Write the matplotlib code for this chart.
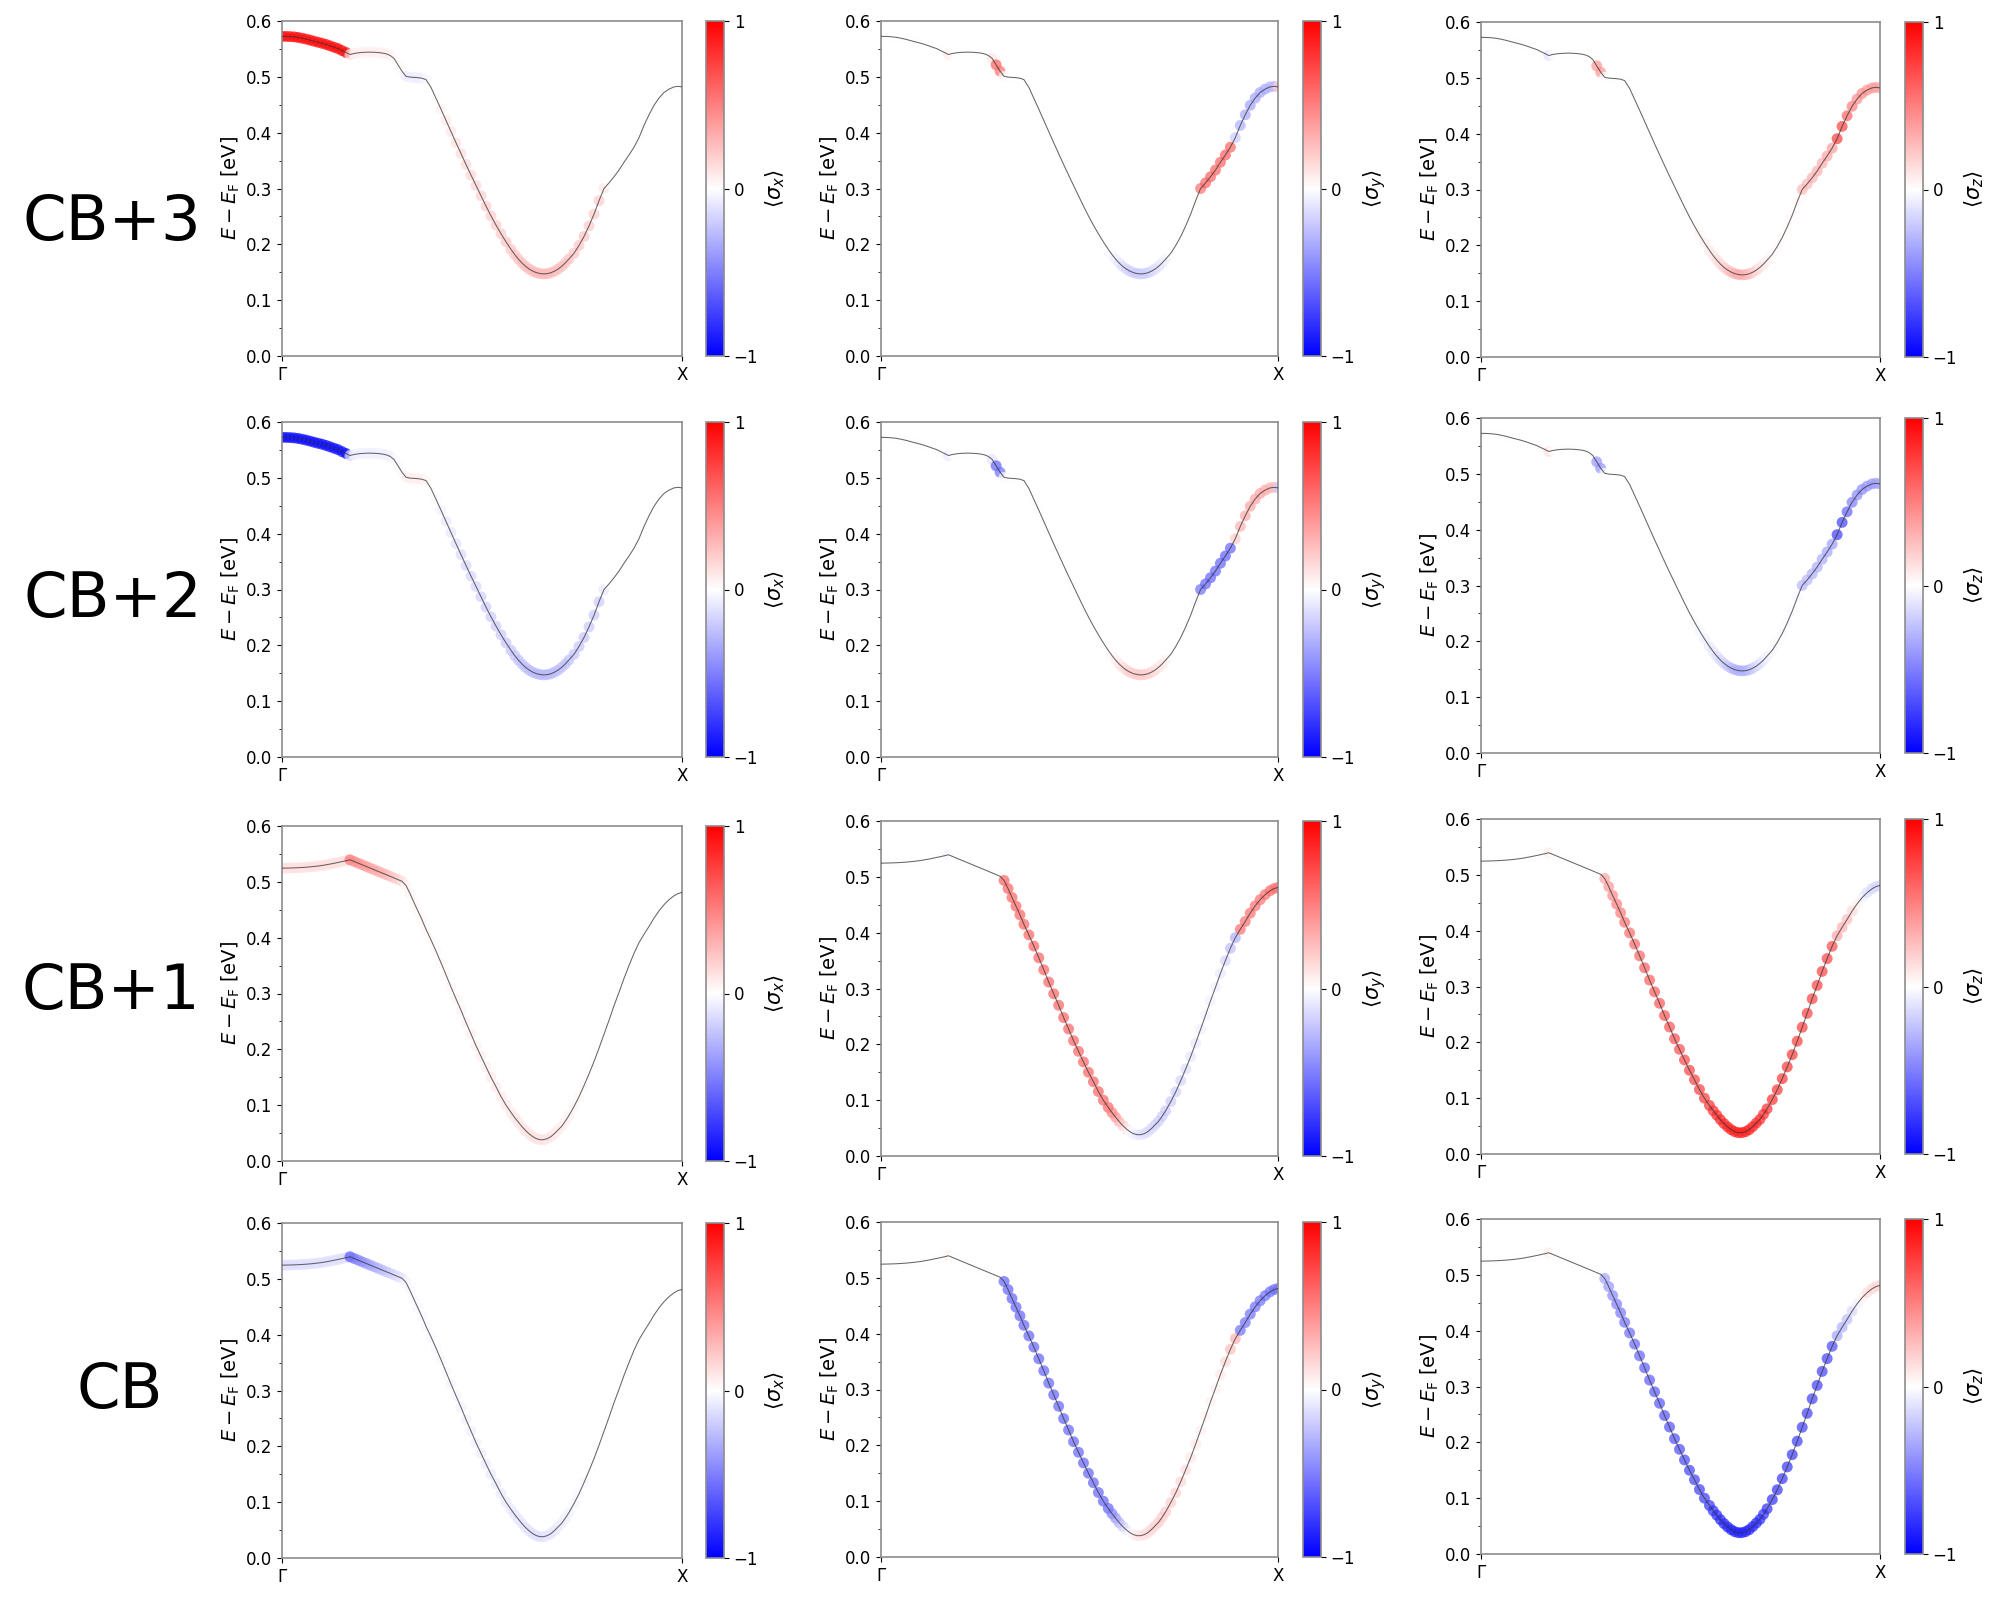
import matplotlib
matplotlib.use('Agg')
import matplotlib.pyplot as plt
from matplotlib.colors import Normalize
from matplotlib.cm import ScalarMappable
from matplotlib.ticker import MultipleLocator

# k-path coordinate (Gamma = 0, X = 1)
k_pts = [
    0.00, 0.01, 0.02, 0.03, 0.04, 0.05, 0.06, 0.07, 0.08, 0.09,
    0.10, 0.11, 0.12, 0.13, 0.14, 0.15, 0.16, 0.17, 0.18, 0.19,
    0.20, 0.21, 0.22, 0.23, 0.24, 0.25, 0.26, 0.27, 0.28, 0.29,
    0.30, 0.31, 0.32, 0.33, 0.34, 0.35, 0.36,
    0.3725, 0.385, 0.3975, 0.41, 0.4225, 0.435, 0.4475, 0.46, 0.4725, 0.485,
    0.4975, 0.51, 0.5225, 0.535, 0.5475, 0.56, 0.5725,
    0.582, 0.591, 0.600, 0.609, 0.618, 0.627, 0.636, 0.645,
    0.654, 0.663, 0.672, 0.681, 0.690, 0.699, 0.708, 0.717,
    0.73, 0.7425, 0.755, 0.7675, 0.78, 0.7925, 0.805, 0.8175, 0.83, 0.8425,
    0.855, 0.8675, 0.88, 0.8925, 0.905, 0.9175, 0.93, 0.9425, 0.955, 0.9675,
    0.98, 0.99, 1.00,
]

# energies of CB+2 / CB+3 (degenerate pair)
e_upper = [
    0.5725, 0.5724, 0.5721, 0.5715, 0.5706, 0.5692, 0.5676, 0.5658, 0.5638, 0.5620,
    0.5602, 0.5580, 0.5556, 0.5530, 0.5506, 0.5470, 0.5436, 0.5400, 0.5418, 0.5430,
    0.5437, 0.5441, 0.5442, 0.5440, 0.5435, 0.5427, 0.5413, 0.5385, 0.5330, 0.5215,
    0.5100, 0.5010, 0.4995, 0.4990, 0.4985, 0.4975, 0.4950,
    0.481, 0.4615, 0.442, 0.422, 0.402, 0.382, 0.3625, 0.343, 0.324, 0.3055,
    0.287, 0.2685, 0.251, 0.2345, 0.219, 0.2045, 0.191,
    0.1815, 0.1735, 0.1665, 0.1605, 0.1557, 0.1520, 0.1493, 0.1477,
    0.1470, 0.1475, 0.1490, 0.1518, 0.1556, 0.1605, 0.1665, 0.1735,
    0.184, 0.198, 0.214, 0.233, 0.254, 0.278, 0.300, 0.310, 0.321, 0.333,
    0.347, 0.360, 0.374, 0.391, 0.413, 0.432, 0.449, 0.462, 0.472, 0.478,
    0.482, 0.483, 0.482,
]

# energies of CB / CB+1 (degenerate pair)
e_lower = [
    0.5245, 0.5246, 0.5248, 0.5250, 0.5253, 0.5257, 0.5262, 0.5268, 0.5275, 0.5283,
    0.5293, 0.5305, 0.5318, 0.5332, 0.5347, 0.5362, 0.5378, 0.5395, 0.5366, 0.5336,
    0.5306, 0.5277, 0.5247, 0.5218, 0.5188, 0.5159, 0.5129, 0.5100, 0.5070, 0.5040,
    0.5010, 0.4935, 0.4790, 0.4630, 0.4475, 0.4320, 0.4150,
    0.396, 0.376, 0.355, 0.3335, 0.3115, 0.2905, 0.270, 0.248, 0.2275, 0.2065,
    0.1875, 0.1685, 0.150, 0.133, 0.1155, 0.100, 0.087,
    0.0775, 0.0695, 0.0615, 0.0545, 0.0485, 0.0435, 0.0400, 0.0382,
    0.0382, 0.0400, 0.0435, 0.0490, 0.0555, 0.0620, 0.0710, 0.0810,
    0.0975, 0.115, 0.135, 0.156, 0.178, 0.202, 0.227, 0.252, 0.278, 0.302,
    0.327, 0.350, 0.372, 0.391, 0.406, 0.420, 0.435, 0.448, 0.459, 0.468,
    0.475, 0.479, 0.481,
]

# spin expectation values, one list per panel
sx_cb3 = [
    0.95, 0.95, 0.95, 0.95, 0.95, 0.95, 0.95, 0.95, 0.95, 0.95,
    0.95, 0.95, 0.95, 0.95, 0.95, 0.95, 0.95, 0.15, 0.06, 0.06,
    0.06, 0.06, 0.06, 0.06, 0.06, 0.06, 0.06, 0.06, 0.02, 0.02,
    0.02, -0.07, -0.07, -0.07, -0.07, -0.07, -0.03,
    0.0, 0.02, 0.05, 0.08, 0.1, 0.12, 0.14, 0.15, 0.16, 0.17,
    0.18, 0.19, 0.2, 0.2, 0.21, 0.22, 0.22,
    0.23, 0.24, 0.25, 0.25, 0.26, 0.26, 0.27, 0.27,
    0.27, 0.27, 0.26, 0.26, 0.25, 0.25, 0.24, 0.24,
    0.23, 0.22, 0.22, 0.21, 0.2, 0.2, 0.1, 0.0, 0.0, 0.0,
    0.0, 0.0, 0.0, 0.0, 0.0, 0.0, 0.0, 0.0, 0.0, 0.0,
    0.0, 0.0, 0.0,
]
sy_cb3 = [
    0.0, 0.0, 0.0, 0.0, 0.0, 0.0, 0.0, 0.0, 0.0, 0.0,
    0.0, 0.0, 0.0, 0.0, 0.0, 0.0, 0.0, 0.08, 0.0, 0.0,
    0.0, 0.0, 0.0, 0.0, 0.0, 0.0, 0.0, 0.0, 0.1, 0.6,
    0.55, 0.03, 0.0, 0.0, 0.0, 0.0, 0.0,
    0.0, 0.0, 0.0, 0.0, 0.0, 0.0, 0.0, 0.0, 0.0, 0.0,
    0.0, 0.0, 0.0, 0.0, 0.0, 0.0, 0.0,
    -0.03, -0.06, -0.1, -0.13, -0.16, -0.18, -0.19, -0.2,
    -0.2, -0.19, -0.18, -0.16, -0.14, -0.11, -0.08, -0.05,
    0.0, 0.0, 0.0, 0.0, 0.0, 0.02, 0.55, 0.6, 0.6, 0.6,
    0.6, 0.62, 0.6, -0.2, -0.3, -0.33, -0.35, -0.35, -0.35, -0.33,
    -0.3, -0.28, 0.2,
]
sz_cb3 = [
    0.0, 0.0, 0.0, 0.0, 0.0, 0.0, 0.0, 0.0, 0.0, 0.0,
    0.0, 0.0, 0.0, 0.0, 0.0, 0.0, 0.0, -0.12, 0.0, 0.0,
    0.0, 0.0, 0.0, 0.0, 0.0, 0.0, 0.0, 0.0, 0.0, 0.4,
    0.4, 0.0, 0.0, 0.0, 0.0, 0.0, 0.0,
    0.0, 0.0, 0.0, 0.0, 0.0, 0.0, 0.0, 0.0, 0.0, 0.0,
    0.0, 0.0, 0.0, 0.02, 0.04, 0.06, 0.08,
    0.1, 0.12, 0.15, 0.18, 0.22, 0.26, 0.3, 0.32,
    0.32, 0.3, 0.26, 0.21, 0.16, 0.12, 0.08, 0.05,
    0.03, 0.02, 0.02, 0.02, 0.02, 0.03, 0.28, 0.28, 0.3, 0.32,
    0.32, 0.35, 0.38, 0.75, 0.72, 0.6, 0.5, 0.45, 0.45, 0.42,
    0.4, 0.38, 0.35,
]

sx_cb2 = [
    -0.95, -0.95, -0.95, -0.95, -0.95, -0.95, -0.95, -0.95, -0.95, -0.95,
    -0.95, -0.95, -0.95, -0.95, -0.95, -0.95, -0.95, -0.15, -0.06, -0.06,
    -0.06, -0.06, -0.06, -0.06, -0.06, -0.06, -0.06, -0.06, -0.02, -0.02,
    -0.02, 0.07, 0.07, 0.07, 0.07, 0.07, 0.03,
    0.0, -0.02, -0.05, -0.08, -0.1, -0.12, -0.14, -0.15, -0.16, -0.17,
    -0.18, -0.19, -0.2, -0.2, -0.21, -0.22, -0.22,
    -0.23, -0.24, -0.25, -0.25, -0.26, -0.26, -0.27, -0.27,
    -0.27, -0.27, -0.26, -0.26, -0.25, -0.25, -0.24, -0.24,
    -0.23, -0.22, -0.22, -0.21, -0.2, -0.2, -0.1, 0.0, 0.0, 0.0,
    0.0, 0.0, 0.0, 0.0, 0.0, 0.0, 0.0, 0.0, 0.0, 0.0,
    0.0, 0.0, 0.0,
]
sy_cb2 = [
    0.0, 0.0, 0.0, 0.0, 0.0, 0.0, 0.0, 0.0, 0.0, 0.0,
    0.0, 0.0, 0.0, 0.0, 0.0, 0.0, 0.0, -0.08, 0.0, 0.0,
    0.0, 0.0, 0.0, 0.0, 0.0, 0.0, 0.0, 0.0, -0.1, -0.6,
    -0.55, -0.03, 0.0, 0.0, 0.0, 0.0, 0.0,
    0.0, 0.0, 0.0, 0.0, 0.0, 0.0, 0.0, 0.0, 0.0, 0.0,
    0.0, 0.0, 0.0, 0.0, 0.0, 0.0, 0.0,
    0.03, 0.06, 0.1, 0.13, 0.16, 0.18, 0.19, 0.2,
    0.2, 0.19, 0.18, 0.16, 0.14, 0.11, 0.08, 0.05,
    0.0, 0.0, 0.0, 0.0, 0.0, -0.02, -0.55, -0.6, -0.6, -0.6,
    -0.6, -0.62, -0.6, 0.2, 0.3, 0.33, 0.35, 0.35, 0.35, 0.33,
    0.3, 0.28, -0.2,
]
sz_cb2 = [
    0.0, 0.0, 0.0, 0.0, 0.0, 0.0, 0.0, 0.0, 0.0, 0.0,
    0.0, 0.0, 0.0, 0.0, 0.0, 0.0, 0.0, 0.12, 0.0, 0.0,
    0.0, 0.0, 0.0, 0.0, 0.0, 0.0, 0.0, 0.0, 0.0, -0.4,
    -0.4, 0.0, 0.0, 0.0, 0.0, 0.0, 0.0,
    0.0, 0.0, 0.0, 0.0, 0.0, 0.0, 0.0, 0.0, 0.0, 0.0,
    0.0, 0.0, 0.0, -0.02, -0.04, -0.06, -0.08,
    -0.1, -0.12, -0.15, -0.18, -0.22, -0.26, -0.3, -0.32,
    -0.32, -0.3, -0.26, -0.21, -0.16, -0.12, -0.08, -0.05,
    -0.03, -0.02, -0.02, -0.02, -0.02, -0.03, -0.28, -0.28, -0.3, -0.32,
    -0.32, -0.35, -0.38, -0.75, -0.72, -0.6, -0.5, -0.45, -0.45, -0.42,
    -0.4, -0.38, -0.35,
]

sx_cb1 = [
    0.12, 0.12, 0.12, 0.12, 0.12, 0.12, 0.12, 0.12, 0.12, 0.12,
    0.12, 0.12, 0.12, 0.12, 0.12, 0.12, 0.12, 0.55, 0.45, 0.43,
    0.41, 0.39, 0.37, 0.35, 0.33, 0.31, 0.29, 0.26, 0.22, 0.18,
    0.12, 0.05, 0.04, 0.03, 0.03, 0.03, 0.03,
    0.03, 0.03, 0.03, 0.03, 0.04, 0.04, 0.05, 0.05, 0.06, 0.06,
    0.07, 0.07, 0.08, 0.08, 0.08, 0.09, 0.09,
    0.1, 0.1, 0.1, 0.11, 0.11, 0.11, 0.11, 0.11,
    0.11, 0.1, 0.1, 0.09, 0.08, 0.07, 0.06, 0.05,
    0.04, 0.03, 0.02, 0.0, 0.0, 0.0, 0.0, 0.0, 0.0, 0.0,
    0.0, 0.0, 0.0, 0.0, 0.0, 0.0, 0.0, 0.0, 0.0, 0.0,
    0.0, 0.0, 0.0,
]
sy_cb1 = [
    0.0, 0.0, 0.0, 0.0, 0.0, 0.0, 0.0, 0.0, 0.0, 0.0,
    0.0, 0.0, 0.0, 0.0, 0.0, 0.0, 0.0, -0.05, 0.0, 0.0,
    0.0, 0.0, 0.0, 0.0, 0.0, 0.0, 0.0, 0.0, 0.0, 0.0,
    0.0, 0.6, 0.6, 0.6, 0.6, 0.6, 0.6,
    0.6, 0.6, 0.6, 0.6, 0.6, 0.6, 0.6, 0.6, 0.6, 0.6,
    0.6, 0.6, 0.6, 0.6, 0.6, 0.6, 0.6,
    0.5, 0.4, 0.3, 0.2, 0.1, 0.03, -0.04, -0.08,
    -0.1, -0.12, -0.13, -0.15, -0.17, -0.18, -0.2, -0.2,
    -0.2, -0.18, -0.16, -0.13, -0.1, -0.08, -0.06, -0.05, -0.05, -0.06,
    -0.08, -0.15, -0.25, -0.3, 0.55, 0.55, 0.55, 0.55, 0.55, 0.55,
    0.55, 0.55, 0.55,
]
sz_cb1 = [
    0.0, 0.0, 0.0, 0.0, 0.0, 0.0, 0.0, 0.0, 0.0, 0.0,
    0.0, 0.0, 0.0, 0.0, 0.0, 0.0, 0.0, 0.08, 0.0, 0.0,
    0.0, 0.0, 0.0, 0.0, 0.0, 0.0, 0.0, 0.0, 0.0, 0.0,
    0.0, 0.35, 0.4, 0.45, 0.5, 0.52, 0.55,
    0.57, 0.58, 0.6, 0.62, 0.63, 0.64, 0.65, 0.66, 0.67, 0.68,
    0.7, 0.71, 0.72, 0.73, 0.75, 0.76, 0.78,
    0.8, 0.82, 0.83, 0.84, 0.85, 0.86, 0.86, 0.86,
    0.86, 0.86, 0.85, 0.84, 0.83, 0.82, 0.8, 0.8,
    0.79, 0.78, 0.77, 0.76, 0.76, 0.75, 0.75, 0.74, 0.74, 0.73,
    0.72, 0.72, 0.7, 0.35, 0.3, 0.25, 0.15, 0.05, -0.05, -0.12,
    -0.15, -0.15, -0.15,
]

sx_cb0 = [
    -0.12, -0.12, -0.12, -0.12, -0.12, -0.12, -0.12, -0.12, -0.12, -0.12,
    -0.12, -0.12, -0.12, -0.12, -0.12, -0.12, -0.12, -0.65, -0.55, -0.5,
    -0.46, -0.42, -0.38, -0.34, -0.3, -0.27, -0.24, -0.2, -0.17, -0.14,
    -0.1, -0.04, -0.03, -0.03, -0.03, -0.03, -0.03,
    -0.03, -0.03, -0.03, -0.03, -0.04, -0.04, -0.05, -0.05, -0.06, -0.06,
    -0.07, -0.07, -0.08, -0.08, -0.08, -0.09, -0.09,
    -0.1, -0.1, -0.1, -0.11, -0.11, -0.11, -0.11, -0.11,
    -0.11, -0.1, -0.1, -0.09, -0.08, -0.07, -0.06, -0.05,
    -0.04, -0.03, -0.02, 0.0, 0.0, 0.0, 0.0, 0.0, 0.0, 0.0,
    0.0, 0.0, 0.0, 0.0, 0.0, 0.0, 0.0, 0.0, 0.0, 0.0,
    0.0, 0.0, 0.0,
]
sy_cb0 = [
    0.0, 0.0, 0.0, 0.0, 0.0, 0.0, 0.0, 0.0, 0.0, 0.0,
    0.0, 0.0, 0.0, 0.0, 0.0, 0.0, 0.0, 0.05, 0.0, 0.0,
    0.0, 0.0, 0.0, 0.0, 0.0, 0.0, 0.0, 0.0, 0.0, 0.0,
    0.0, -0.6, -0.6, -0.6, -0.6, -0.6, -0.6,
    -0.6, -0.6, -0.6, -0.6, -0.6, -0.6, -0.6, -0.6, -0.6, -0.6,
    -0.6, -0.6, -0.6, -0.6, -0.6, -0.6, -0.6,
    -0.5, -0.4, -0.3, -0.2, -0.1, -0.03, 0.04, 0.08,
    0.1, 0.12, 0.13, 0.15, 0.17, 0.18, 0.2, 0.2,
    0.2, 0.18, 0.16, 0.13, 0.1, 0.08, 0.06, 0.05, 0.05, 0.06,
    0.08, 0.15, 0.25, 0.3, -0.55, -0.55, -0.55, -0.55, -0.55, -0.55,
    -0.55, -0.55, -0.55,
]
sz_cb0 = [
    0.0, 0.0, 0.0, 0.0, 0.0, 0.0, 0.0, 0.0, 0.0, 0.0,
    0.0, 0.0, 0.0, 0.0, 0.0, 0.0, 0.0, 0.08, 0.0, 0.0,
    0.0, 0.0, 0.0, 0.0, 0.0, 0.0, 0.0, 0.0, 0.0, 0.0,
    0.0, -0.35, -0.4, -0.45, -0.5, -0.52, -0.55,
    -0.57, -0.58, -0.6, -0.62, -0.63, -0.64, -0.65, -0.66, -0.67, -0.68,
    -0.7, -0.71, -0.72, -0.73, -0.75, -0.76, -0.78,
    -0.8, -0.82, -0.83, -0.84, -0.85, -0.86, -0.86, -0.86,
    -0.86, -0.86, -0.85, -0.84, -0.83, -0.82, -0.8, -0.8,
    -0.79, -0.78, -0.77, -0.76, -0.76, -0.75, -0.75, -0.74, -0.74, -0.73,
    -0.72, -0.72, -0.7, -0.35, -0.3, -0.25, -0.15, -0.05, 0.05, 0.12,
    0.15, 0.15, 0.15,
]

row_names = ['CB+3', 'CB+2', 'CB+1', 'CB']
components = ['x', 'y', 'z']
row_bands = [e_upper, e_upper, e_lower, e_lower]
row_spins = [
    [sx_cb3, sy_cb3, sz_cb3],
    [sx_cb2, sy_cb2, sz_cb2],
    [sx_cb1, sy_cb1, sz_cb1],
    [sx_cb0, sy_cb0, sz_cb0],
]

# Layout in pixels of the 2000x1600 canvas
W, H = 2000, 1600
col_left = [282, 881, 1481]
col_width = [400, 397, 399]
cbar_left = [706, 1303, 1905]
cbar_width = 18
panel_top = [
    [21, 21, 22],
    [422, 422, 418],
    [826, 821, 819],
    [1223, 1222, 1219],
]
panel_height = 335
label_pos = [(112, 223), (113, 600), (111, 992), (120, 1391)]


def fig_box(left, top, width, height):
    return [left / W, 1 - (top + height) / H, width / W, height / H]


def style_axis(ax):
    for spine in ax.spines.values():
        spine.set_color('#8c8c8c')
        spine.set_linewidth(1.2)
    ax.set_xlim(0, 1)
    ax.set_ylim(0, 0.6)
    ax.set_xticks([0, 1])
    ax.set_xticklabels(['Γ', 'X'])
    ax.set_yticks([0.0, 0.1, 0.2, 0.3, 0.4, 0.5, 0.6])
    ax.yaxis.set_minor_locator(MultipleLocator(0.05))
    ax.tick_params(labelsize=12)
    ax.set_ylabel(r'$E - E_\mathrm{F}$ [eV]', fontsize=14, labelpad=3)


def main():
    cmap = plt.get_cmap('bwr')
    norm = Normalize(vmin=-1, vmax=1)

    fig = plt.figure(figsize=(20, 16), dpi=100)

    for r, name in enumerate(row_names):
        energies = row_bands[r]
        for c, comp in enumerate(components):
            top = panel_top[r][c]
            ax = fig.add_axes(fig_box(col_left[c], top, col_width[c], panel_height))
            ax.scatter(k_pts, energies, c=row_spins[r][c], cmap=cmap, norm=norm,
                       s=62, alpha=0.72, edgecolors='none', zorder=2)
            ax.plot(k_pts, energies, color='#333333', lw=0.75, alpha=0.75, zorder=3)
            style_axis(ax)

            cax = fig.add_axes(fig_box(cbar_left[c], top, cbar_width, panel_height))
            cb = fig.colorbar(ScalarMappable(norm=norm, cmap=cmap), cax=cax)
            cb.set_ticks([-1, 0, 1])
            cb.ax.tick_params(labelsize=12)
            cb.outline.set_edgecolor('#8c8c8c')
            cb.outline.set_linewidth(1.2)
            cb.set_label(r'$\langle \sigma_%s \rangle$' % comp, fontsize=15)

        x, y = label_pos[r]
        fig.text(x / W, 1 - y / H, name, fontsize=45, ha='center', va='center')

    fig.savefig('out.png', dpi=100)


if __name__ == '__main__':
    main()
